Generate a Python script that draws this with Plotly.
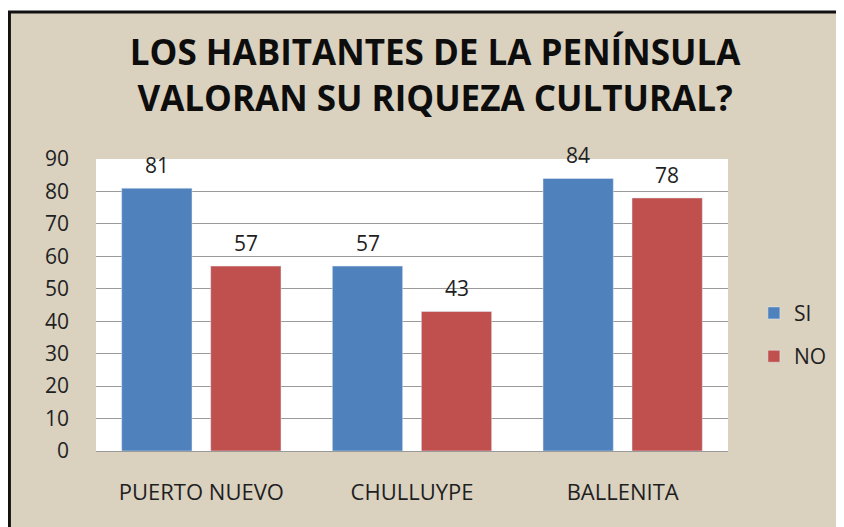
import plotly.graph_objects as go

# data
categorias = ["PUERTO NUEVO", "CHULLUYPE", "BALLENITA"]
si = [81, 57, 84]
no = [57, 43, 78]
y_ticks = [0, 10, 20, 30, 40, 50, 60, 70, 80, 90]

azul = "#4F81BD"
rojo = "#C0504D"
fondo = "#DAD1BF"
texto = "#1f1f1f"
fuente = "'Open Sans', Lato, sans-serif"

fig = go.Figure()
fig.add_trace(go.Bar(x=categorias, y=si, name="SI", marker_color=azul,
                     legendgroup="a"))
fig.add_trace(go.Bar(x=categorias, y=no, name="NO", marker_color=rojo,
                     legendgroup="b"))

# value labels above the bars
for serie, dx in ((si, -44.5), (no, 44.5)):
    for c, v in zip(categorias, serie):
        fig.add_annotation(x=c, y=v, text=str(v), showarrow=False,
                           xshift=dx, yshift=23,
                           font=dict(size=21, color=texto, family=fuente))

# textured board behind the chart, with its dark frame
fig.add_shape(type="rect", xref="paper", yref="paper",
              x0=-0.137, x1=1.25, y0=-0.35, y1=1.503,
              fillcolor=fondo, line=dict(color="#111111", width=3),
              layer="below")
# white plot area on top of the board
fig.add_shape(type="rect", xref="paper", yref="paper",
              x0=0, x1=1, y0=0, y1=1,
              fillcolor="white", line=dict(width=0), layer="below")

fig.update_layout(
    width=844, height=527,
    margin=dict(l=88, r=124, t=151, b=84),
    paper_bgcolor="white",
    plot_bgcolor="white",
    barmode="group",
    bargap=0.155,
    bargroupgap=0.21,
    title=dict(text="LOS HABITANTES DE LA PENÍNSULA<br>VALORAN SU RIQUEZA CULTURAL?",
               x=0.506, xanchor="center", y=0.891, yanchor="middle",
               font=dict(size=35, color="#0d0d0d", family=fuente, weight="bold")),
    font=dict(family=fuente, color=texto, size=21),
    legend=dict(x=1.041, xanchor="left", y=0.398, yanchor="middle",
                bgcolor="rgba(0,0,0,0)", tracegroupgap=13,
                font=dict(size=21, color=texto)),
    showlegend=True,
)
fig.update_yaxes(range=[0, 90], tickvals=y_ticks, showgrid=True,
                 gridcolor="#9a9a9a", gridwidth=1, zeroline=False,
                 showline=False, ticklabelstandoff=26,
                 tickfont=dict(size=21, color=texto))
fig.update_xaxes(showline=True, linecolor="#9a9a9a", ticks="",
                 ticklabelstandoff=22, tickfont=dict(size=22, color=texto))

fig.write_html("out.html")
